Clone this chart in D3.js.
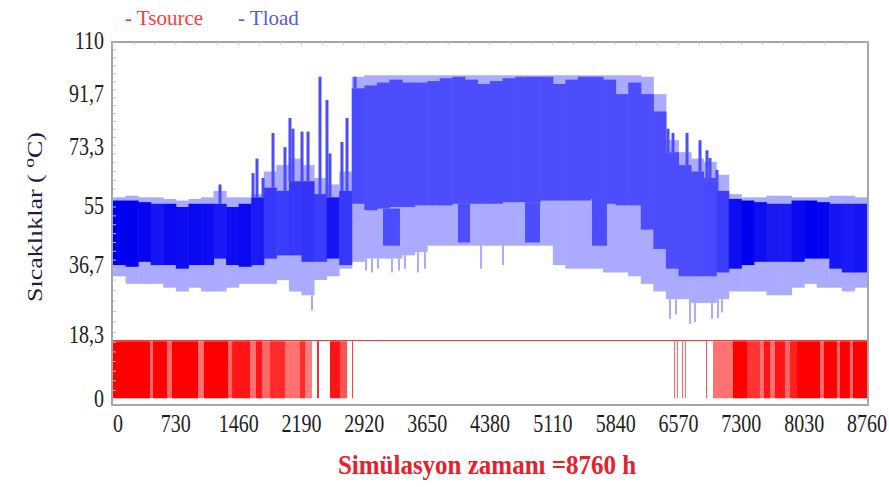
<!DOCTYPE html>
<html>
<head>
<meta charset="utf-8">
<script src="https://cdn.jsdelivr.net/npm/d3@7"></script>
<style>
  body { margin: 0; background: #fff; }
  svg { display: block; font-family: "Liberation Serif", "Times New Roman", serif; }
</style>
</head>
<body>
<svg id="chart"></svg>
<script>
const hoursPerBin = 146;
const xTicks = [0, 730, 1460, 2190, 2920, 3650, 4380, 5110, 5840, 6570, 7300, 8030, 8760];
const yTicks = [0, 18.3, 36.7, 55, 73.3, 91.7, 110];

// Tload envelope (light), core band and how dense the core is
const loadMax = [58, 58.5, 58, 58, 57.5, 57, 57.5, 58, 60, 58, 58,
  59, 66, 68, 70, 68, 64, 62, 66, 98,
  98.5, 98.5, 98.5, 98.5, 98.5, 98.5, 98.5, 98.5, 98.5, 98.5, 98.5, 98.5, 98.5, 98.5, 98.5, 98.5, 98.5, 98.5, 98.5,
  98.5, 98.5, 98.5, 98, 92, 76, 72, 70, 69, 65, 59,
  58, 58, 58.5, 58.5, 58, 58, 58, 58.5, 58.5, 58];
const coreHi = [57, 57, 56.5, 56, 56, 55, 56, 56, 56, 55, 56,
  58, 61, 60, 63, 63, 59, 58, 60, 94,
  95, 96, 97, 96, 96, 96.5, 97.5, 98, 97, 95.5, 96.5, 97.5, 98, 98, 98, 95.5, 97, 98, 98,
  97, 92, 96, 92, 86, 72, 68, 66, 64, 60, 57.5,
  57, 56.5, 56, 56, 57, 57, 56.5, 56, 56, 56];
const coreLo = [37, 36.5, 38, 37, 37, 36, 37, 37, 39, 37, 36.5,
  37, 39, 40, 40, 38, 38, 39, 37, 56,
  54, 54.5, 55, 55, 55.5, 55.5, 55.5, 56, 56, 56, 56, 56.5, 56.5, 56.5, 57, 57, 57, 57, 57.5,
  56, 55.5, 55.5, 48, 42, 36, 34, 34, 34, 35, 36,
  37, 38, 38, 38, 38, 39, 39, 36, 35, 35];
const loadMin = [34, 32, 32, 32, 31, 30, 31, 30, 30, 31, 32,
  32, 32, 33, 30, 29, 33, 34, 36, 38,
  39, 39, 39, 40, 41, 43, 43, 43, 43, 43, 43, 43, 43, 43, 43, 37, 36, 36, 36,
  35, 35, 34, 32, 30, 28, 28, 27, 27, 28, 30,
  30, 30, 29, 29, 31, 32, 31, 31, 30, 31];
const coreDensity = [1, 1, 0.95, 0.75, 0.9, 0.85, 0.9, 0.85, 0.7, 0.85, 0.9,
  0.7, 0.35, 0.3, 0.35, 0.4, 0.3, 0.75, 0.35, 0.15,
  0.1, 0.1, 0.1, 0.1, 0.1, 0.1, 0.1, 0.1, 0.1, 0.1, 0.1, 0.1, 0.1, 0.1, 0.1, 0.1, 0.1, 0.1, 0.1,
  0.1, 0.1, 0.1, 0.1, 0.1, 0.1, 0.1, 0.12, 0.15, 0.3, 0.85,
  1, 0.85, 0.7, 0.7, 0.9, 1, 0.95, 0.75, 0.7, 0.75];

// summer periods where Tload drops to the lower level
const dropStart = [3137, 4008, 4787, 5565];
const dropEnd = [3334, 4148, 4961, 5739];
const dropLow = [43, 44, 44, 43];

// single peaks (hour, top) and single low points (hour, bottom)
const peakHour = [1243, 1627, 1673, 1743, 1859, 1998, 2056, 2091, 2196, 2266, 2405, 2486, 2521, 2660, 2719, 2812,
  6448, 6506, 6669, 6820, 6901, 6936, 7017];
const peakTop = [62, 65.5, 70, 64, 78.5, 73.6, 83.7, 80, 79, 79, 98, 90, 71.6, 75.4, 83.7, 98,
  80, 78.5, 78.5, 76, 72.6, 70.2, 66.5];
const lowHour = [2312, 2939, 3009, 3079, 3241, 3323, 3392, 3543, 3625, 4276, 4531,
  6471, 6541, 6704, 6762, 6959, 7029, 7075];
const lowBottom = [25, 35.5, 35, 36, 35, 35.5, 36, 35, 36, 36, 37,
  22.8, 24, 21.5, 22, 22.8, 23, 24.5];

// Tsource: periods where it swings between low and high, else flat
const srcStart = [0, 430, 465, 627, 685, 988, 1057, 1336, 1383, 1592, 1661, 1731, 1824, 1998, 2173, 2231, 2370, 2521, 2637, 2777,
  6518, 6553, 6611, 6646, 6890, 6971, 7203, 7366, 7517, 7563, 7633, 7691, 7807, 7865, 7947, 8214, 8260, 8411, 8446, 8562, 8597];
const srcEnd = [430, 465, 627, 685, 988, 1057, 1336, 1383, 1592, 1661, 1731, 1824, 1998, 2173, 2231, 2312, 2393, 2637, 2719, 2788,
  6530, 6564, 6623, 6657, 6901, 7203, 7366, 7517, 7563, 7633, 7691, 7807, 7865, 7947, 8214, 8260, 8411, 8446, 8562, 8597, 8760];
const srcDensity = [1, 0.5, 1, 0.5, 1, 0.45, 1, 0.5, 0.9, 0.45, 0.9, 0.5, 0.8, 0.45, 0.8, 0.4, 0.8, 0.9, 0.6, 0.7,
  0.5, 0.5, 0.5, 0.5, 0.6, 0.45, 1, 0.75, 0.45, 0.9, 0.45, 0.9, 0.5, 0.85, 1, 0.5, 1, 0.5, 1, 0.5, 1];
const srcHigh = 16.8, srcLow = 0.5, srcFlat = 17;

const width = 889, height = 487;
const svg = d3.select("#chart").attr("width", width).attr("height", height);

const x = d3.scaleLinear().domain([0, 8760]).range([113, 867]);
// label spacing in the picture is uneven, so the scale follows it piecewise
const y = d3.scaleLinear().domain(yTicks).range([400, 336, 266, 207, 148, 95, 42]);

const lightBlue = "#aaaaff";
const coreColor = d3.scaleLinear().domain([0, 1]).range(["#5656ff", "#0000f0"]);
const redShade = d3.scaleLinear().domain([0, 1]).range(["#ffd0d0", "#ff0000"]);

const bins = d3.range(loadMax.length);
const bx = j => x(j * hoursPerBin);
const bw = j => x((j + 1) * hoursPerBin) - x(j * hoursPerBin) + 0.5;
const binOf = h => Math.min(bins.length - 1, Math.floor(h / hoursPerBin));

const plot = svg.append("g");

// Tsource
plot.append("line")
  .attr("x1", x(0)).attr("x2", x(8760))
  .attr("y1", y(srcFlat)).attr("y2", y(srcFlat))
  .attr("stroke", "#ff3030").attr("stroke-width", 1);

plot.selectAll("rect.src")
  .data(srcStart.map((s, i) => ({ s, e: srcEnd[i], d: srcDensity[i] })))
  .join("rect").attr("class", "src")
  .attr("x", d => x(d.s))
  .attr("width", d => Math.max(1, x(d.e) - x(d.s)))
  .attr("y", y(srcHigh))
  .attr("height", y(srcLow) - y(srcHigh))
  .attr("fill", d => redShade(d.d));

// Tload light envelope
plot.selectAll("rect.env")
  .data(bins)
  .join("rect").attr("class", "env")
  .attr("x", bx).attr("width", bw)
  .attr("y", j => y(loadMax[j]))
  .attr("height", j => y(loadMin[j]) - y(loadMax[j]))
  .attr("fill", lightBlue);

plot.selectAll("line.low")
  .data(lowHour.map((h, i) => ({ h, b: lowBottom[i] })))
  .join("line").attr("class", "low")
  .attr("x1", d => x(d.h)).attr("x2", d => x(d.h))
  .attr("y1", d => y(loadMin[binOf(d.h)]))
  .attr("y2", d => y(d.b))
  .attr("stroke", lightBlue).attr("stroke-width", 2);

// core band
plot.selectAll("rect.core")
  .data(bins)
  .join("rect").attr("class", "core")
  .attr("x", bx).attr("width", bw)
  .attr("y", j => y(coreHi[j]))
  .attr("height", j => y(coreLo[j]) - y(coreHi[j]))
  .attr("fill", j => coreColor(coreDensity[j]));

plot.selectAll("rect.drop")
  .data(dropStart.map((s, i) => ({ s, e: dropEnd[i], low: dropLow[i] })))
  .join("rect").attr("class", "drop")
  .attr("x", d => x(d.s))
  .attr("width", d => x(d.e) - x(d.s))
  .attr("y", d => y(coreLo[binOf(d.s)]))
  .attr("height", d => y(d.low) - y(coreLo[binOf(d.s)]))
  .attr("fill", coreColor(0.1));

plot.selectAll("line.peak")
  .data(peakHour.map((h, i) => ({ h, t: peakTop[i] })))
  .join("line").attr("class", "peak")
  .attr("x1", d => x(d.h)).attr("x2", d => x(d.h))
  .attr("y1", d => y(coreHi[binOf(d.h)]))
  .attr("y2", d => y(d.t))
  .attr("stroke", coreColor(0.12)).attr("stroke-width", 3);

// frame with small ticks
const frame = svg.append("g").attr("stroke", "#a6a6a6").attr("fill", "none");
frame.append("rect")
  .attr("x", x(0) - 1).attr("y", y(110))
  .attr("width", x(8760) - x(0) + 2).attr("height", y(0) + 5 - y(110))
  .attr("stroke-width", 2);
frame.selectAll("line.yt")
  .data(d3.range(0, 110, 2.75))
  .join("line").attr("class", "yt")
  .attr("x1", x(0)).attr("x2", x(0) + 3)
  .attr("y1", d => y(d)).attr("y2", d => y(d))
  .attr("stroke", "#c8c8c8");
frame.selectAll("line.xt")
  .data(d3.range(0, 8760, 243.33))
  .join("line").attr("class", "xt")
  .attr("x1", d => x(d)).attr("x2", d => x(d))
  .attr("y1", y(110)).attr("y2", y(110) + 3)
  .attr("stroke", "#c8c8c8");

// tick labels
svg.append("g").selectAll("text")
  .data(xTicks)
  .join("text")
  .attr("transform", d => `translate(${x(d)},432) scale(1,1.25)`)
  .attr("text-anchor", (d, i) => i === 0 ? "start" : "middle")
  .attr("font-size", 20)
  .attr("fill", "#1e1e1e")
  .text(d => d);

svg.append("g").selectAll("text")
  .data(yTicks)
  .join("text")
  .attr("transform", d => `translate(104,${y(d) + 7}) scale(1,1.25)`)
  .attr("text-anchor", "end")
  .attr("font-size", 20)
  .attr("fill", "#1e1e1e")
  .text(d => String(d).replace(".", ","));

// axis titles
const yTitle = svg.append("text")
  .attr("transform", "translate(42,217) rotate(-90) scale(1.3,1)")
  .attr("text-anchor", "middle")
  .attr("font-size", 20)
  .attr("fill", "#1c2040");
yTitle.append("tspan").text("Sıcaklıklar ( ");
yTitle.append("tspan").attr("baseline-shift", "super").attr("font-size", 15).text("o");
yTitle.append("tspan").text("C)");

svg.append("text")
  .attr("transform", "translate(487,474) scale(1,1.1)")
  .attr("text-anchor", "middle")
  .attr("font-size", 25)
  .attr("font-weight", "bold")
  .attr("fill", "#e8202a")
  .text("Simülasyon zamanı =8760 h");

// legend
svg.append("text").attr("x", 125).attr("y", 25)
  .attr("font-size", 21).attr("fill", "#ff3c3c").text("- Tsource");
svg.append("text").attr("x", 238).attr("y", 25)
  .attr("font-size", 21).attr("fill", "#5858e0").text("- Tload");
</script>
</body>
</html>
